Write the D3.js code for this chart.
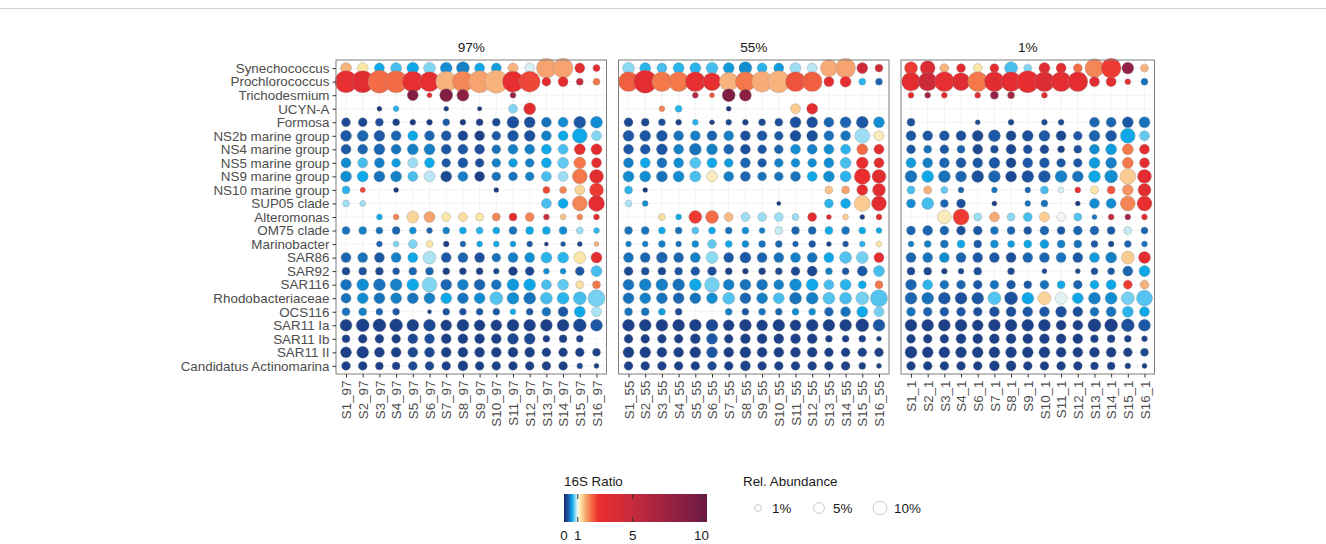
<!DOCTYPE html>
<html>
<head>
<meta charset="utf-8">
<script src="https://cdn.jsdelivr.net/npm/d3@7"></script>
<style>
  body { margin: 0; background: #fff; }
  text { font-family: "Liberation Sans", Arial, sans-serif; }
</style>
</head>
<body>
<script>
// bubble chart: 16S ratio (colour) and relative abundance (size) per taxon and sample
var n = null;

var taxa = ["Synechococcus", "Prochlorococcus", "Trichodesmium", "UCYN-A", "Formosa",
  "NS2b marine group", "NS4 marine group", "NS5 marine group", "NS9 marine group",
  "NS10 marine group", "SUP05 clade", "Alteromonas", "OM75 clade", "Marinobacter",
  "SAR86", "SAR92", "SAR116", "Rhodobacteriaceae", "OCS116", "SAR11 Ia", "SAR11 Ib",
  "SAR11 II", "Candidatus Actinomarina"];

var samples97 = ["S1_97","S2_97","S3_97","S4_97","S5_97","S6_97","S7_97","S8_97","S9_97","S10_97","S11_97","S12_97","S13_97","S14_97","S15_97","S16_97"];
var samples55 = ["S1_55","S2_55","S3_55","S4_55","S5_55","S6_55","S7_55","S8_55","S9_55","S10_55","S11_55","S12_55","S13_55","S14_55","S15_55","S16_55"];
var samples1 = ["S1_1","S2_1","S3_1","S4_1","S6_1","S7_1","S8_1","S9_1","S10_1","S11_1","S12_1","S13_1","S14_1","S15_1","S16_1"];

// 16S ratio, rows follow taxa
var ratio97 = [
  [1.5,1.2,0.6,0.7,0.6,0.8,0.5,0.45,0.6,0.55,1.5,0.95,1.6,1.6,3,3],
  [2.8,3.2,2.0,2.0,2.8,2.8,1.5,1.8,1.6,1.5,2.8,2.3,3,3,5,1.9],
  [n,n,n,n,9,3,9,8.5,n,n,8,n,n,n,n,n],
  [n,n,0.1,0.65,n,n,0.15,n,0.1,n,0.8,3,n,n,n,n],
  [0.2,0.2,0.25,0.15,0.1,0.12,0.3,0.1,0.15,0.2,0.25,0.25,0.4,0.5,0.3,0.5],
  [0.3,0.35,0.3,0.35,0.6,0.35,0.3,0.2,0.15,0.3,0.3,0.25,0.45,0.6,0.6,0.8],
  [0.3,0.35,0.35,0.4,0.45,0.45,0.3,0.3,0.25,0.4,0.45,0.45,0.6,0.7,2.8,3.2],
  [0.5,0.7,0.45,0.55,0.85,0.6,0.3,0.3,0.25,0.45,0.55,0.45,0.6,0.75,1.9,3],
  [0.5,0.6,0.4,0.45,0.7,0.9,0.2,0.45,0.15,0.4,0.4,0.45,0.7,0.85,1.9,3],
  [0.65,2.3,n,0.1,n,n,n,n,n,0.1,n,n,2.3,1.8,1.3,2.4],
  [0.85,0.85,n,n,n,n,n,n,n,n,n,n,0.7,0.6,1.8,3],
  [n,n,0.6,1.8,1.3,1.6,1.2,1.25,1.2,1.8,3,1.8,5,1.4,1.8,3],
  [0.4,0.45,0.4,0.35,0.5,0.35,0.45,0.6,0.65,0.6,0.4,0.6,0.6,0.5,0.85,0.65],
  [n,n,0.35,0.8,0.8,1.2,0.15,0.35,0.6,0.6,0.55,0.3,0.1,0.3,0.15,1.5],
  [0.35,0.4,0.3,0.45,0.6,0.88,0.3,0.35,0.25,0.4,0.45,0.5,0.65,0.65,1.2,3],
  [0.2,0.25,0.2,0.3,0.35,0.35,0.15,0.15,0.15,0.2,0.15,0.2,0.5,0.5,0.3,0.7],
  [0.4,0.5,0.4,0.45,0.6,0.8,0.35,0.45,0.35,0.4,0.55,0.6,0.7,0.75,1.25,1.9],
  [0.4,0.5,0.4,0.45,0.4,0.45,0.6,0.4,0.5,0.72,0.5,0.4,0.7,0.65,0.7,0.78],
  [0.4,0.45,0.35,0.3,n,0.15,0.25,0.25,0.3,0.3,0.6,0.3,0.4,0.3,0.6,0.88],
  [0.15,0.15,0.15,0.15,0.15,0.2,0.15,0.15,0.15,0.15,0.15,0.15,0.15,0.15,0.2,0.3],
  [0.15,0.15,0.15,0.15,0.2,0.25,0.15,0.15,0.15,0.15,0.2,0.2,0.15,0.15,0.15,n],
  [0.15,0.15,0.15,0.15,0.2,0.2,0.15,0.15,0.15,0.15,0.15,0.15,0.15,0.15,0.15,0.15],
  [0.15,0.15,0.15,0.15,0.2,0.2,0.15,0.15,0.15,0.15,0.15,0.15,0.15,0.15,0.2,0.15]
];
// relative abundance (%)
var abund97 = [
  [5.2,5.2,3.9,5.2,6.6,6.6,6.6,8.3,3.9,3.9,3.9,3.9,25,25,3.9,1.1],
  [32,32,35.5,32,28.5,25,28.5,28.5,32,35.5,28.5,28.5,2.7,3.9,1.1,1.1],
  [n,n,n,n,5.2,0.2,8.3,6.6,n,n,0.5,n,n,n,n,n],
  [n,n,0.2,0.5,n,n,0.2,n,0.1,n,2.7,6.6,n,n,n,n],
  [2.7,2.7,1.8,1.1,0.5,0.5,1.1,0.5,1.1,1.8,6.6,5.2,3.9,3.9,6.6,6.6],
  [5.2,5.2,5.2,3.9,3.9,3.9,3.9,3.9,3.9,2.7,5.2,5.2,3.9,3.9,12,3.9],
  [3.9,3.9,5.2,3.9,5.2,5.2,3.9,3.9,3.9,2.7,3.9,3.9,3.9,3.9,5.2,5.2],
  [3.9,3.9,3.9,2.7,3.9,3.9,2.7,3.9,2.7,2.7,2.7,2.7,3.9,5.2,6.6,3.9],
  [5.2,5.2,5.2,5.2,3.9,5.2,5.2,3.9,3.9,2.7,2.7,2.7,3.9,3.9,12,10],
  [1.8,0.3,n,0.2,n,n,n,n,n,0.2,n,n,1.1,1.1,3.9,10],
  [1.1,0.5,n,n,n,n,n,n,n,n,n,n,3.9,3.9,12,14.5],
  [n,n,0.5,0.5,6.6,5.2,2.7,2.7,1.8,1.8,1.8,2.7,0.5,0.5,0.5,0.5],
  [1.8,1.8,1.1,1.8,1.1,0.5,1.1,1.1,1.1,1.1,1.8,1.8,1.8,1.8,1.1,0.5],
  [n,n,0.5,0.5,2.7,1.1,0.5,0.5,0.5,0.5,0.5,0.5,0.05,0.2,0.2,0.2],
  [3.9,3.9,3.9,3.9,3.9,8.3,3.9,3.9,3.9,2.7,3.9,3.9,5.2,5.2,6.6,5.2],
  [1.8,1.8,1.8,1.1,1.8,1.8,1.1,1.1,1.1,0.5,2.7,2.7,0.5,0.5,2.7,5.2],
  [5.2,6.6,6.6,6.6,6.6,12,5.2,5.2,5.2,3.9,6.6,6.6,3.9,5.2,1.8,1.8],
  [3.9,5.2,5.2,5.2,5.2,5.2,5.2,5.2,5.2,8.3,6.6,6.6,6.6,6.6,8.3,17],
  [1.8,1.8,1.1,1.1,n,0.05,1.1,1.1,1.1,1.1,0.5,1.1,2.7,3.9,5.2,3.9],
  [6.6,8.3,8.3,8.3,6.6,6.6,5.2,6.6,5.2,5.2,6.6,6.6,6.6,6.6,8.3,6.6],
  [1.8,2.7,2.7,2.7,3.9,3.9,3.9,3.9,3.9,3.9,5.2,5.2,1.1,1.8,1.1,n],
  [5.2,6.6,3.9,3.9,3.9,3.9,3.9,3.9,3.9,3.9,3.9,3.9,2.7,2.7,2.7,1.8],
  [2.7,2.7,1.8,1.8,2.7,2.7,2.7,3.9,2.7,2.7,2.7,2.7,2.7,2.7,0.5,0.2]
];

var ratio55 = [
  [0.82,0.65,0.7,0.65,0.65,0.7,0.55,0.5,0.65,0.55,0.85,0.9,1.55,1.6,4.5,4.5],
  [2.1,3,1.9,1.9,2.8,2.8,1.5,1.9,1.55,1.5,2.2,2.1,3,2.8,0.65,0.35],
  [n,n,n,n,6,2.2,9,8.5,n,n,n,n,n,n,n,n],
  [n,n,1.8,0.65,n,n,0.1,n,n,n,1.35,3,n,n,n,n],
  [0.2,0.2,0.25,0.15,0.65,0.15,0.2,0.15,0.2,0.25,0.25,0.25,0.35,0.35,0.3,0.5],
  [0.3,0.3,0.3,0.4,0.45,0.35,0.45,0.25,0.3,0.3,0.25,0.25,0.4,0.4,0.85,1.15],
  [0.3,0.3,0.3,0.45,0.4,0.45,0.35,0.25,0.3,0.35,0.5,0.45,0.5,0.65,2,3],
  [0.45,0.6,0.4,0.5,0.72,0.6,0.55,0.35,0.3,0.45,0.5,0.5,0.5,0.7,2.6,3],
  [0.5,0.5,0.4,0.5,0.7,1.15,0.45,0.35,0.4,0.4,0.4,0.6,0.5,0.65,2.6,3],
  [0.65,0.1,n,n,n,n,n,n,n,n,n,n,1.4,1.6,2.9,3],
  [0.88,0.5,n,n,n,n,n,n,n,0.1,n,n,0.65,0.6,1.35,3],
  [n,n,1.25,0.6,2.4,2,1.45,0.85,0.85,0.85,0.85,3,3.5,1.35,0.15,3],
  [0.4,0.4,0.6,0.4,0.72,0.6,0.4,0.5,0.45,0.92,0.35,0.35,0.6,0.4,0.6,0.6],
  [0.45,0.45,0.45,0.4,0.5,0.75,0.6,0.5,0.4,0.35,0.35,0.3,0.15,0.3,0.65,1.2],
  [0.4,0.35,0.35,0.35,0.45,0.82,0.3,0.3,0.35,0.4,0.45,0.4,0.6,0.72,0.78,3],
  [0.2,0.25,0.2,0.3,0.3,0.25,0.15,0.12,0.15,0.2,0.2,0.2,0.45,0.3,0.3,0.7],
  [0.4,0.45,0.45,0.4,0.6,0.78,0.45,0.4,0.4,0.45,0.5,0.6,0.7,0.65,0.6,1.9],
  [0.4,0.45,0.4,0.35,0.4,0.5,0.72,0.35,0.45,0.7,0.4,0.45,0.72,0.7,0.78,0.72],
  [0.4,0.4,0.55,0.2,n,n,0.45,0.3,0.4,0.35,0.5,0.5,0.35,0.4,0.6,0.78],
  [0.15,0.15,0.15,0.15,0.15,0.2,0.15,0.15,0.15,0.15,0.15,0.15,0.15,0.15,0.15,0.3],
  [0.15,0.15,0.15,0.15,0.15,0.3,0.15,0.15,0.15,0.15,0.15,0.15,0.15,0.15,0.15,0.15],
  [0.15,0.15,0.15,0.15,0.15,0.3,0.15,0.15,0.15,0.15,0.15,0.15,0.15,0.15,0.15,0.15],
  [0.15,0.15,0.15,0.15,0.15,0.2,0.15,0.15,0.15,0.15,0.15,0.15,0.15,0.15,0.15,0.15]
];
var abund55 = [
  [6.6,5.2,3.9,5.2,5.2,6.6,5.2,8.3,3.9,3.9,5.2,3.9,17,25,5.2,1.8],
  [25,35.5,25,25,25,19.5,22,25,28.5,32,25,25,3.9,5.2,1.1,1.1],
  [n,n,n,n,0.5,0.2,8.3,6.6,n,n,n,n,n,n,n,n],
  [n,n,0.5,1.1,n,n,0.2,n,n,n,3.9,5.2,n,n,n,n],
  [2.7,1.8,1.1,0.5,0.5,0.2,0.5,0.5,1.1,1.8,5.2,5.2,3.9,5.2,6.6,5.2],
  [5.2,5.2,5.2,3.9,3.9,3.9,3.9,3.9,3.9,2.7,5.2,5.2,3.9,3.9,12,3.9],
  [3.9,3.9,5.2,3.9,6.6,5.2,3.9,3.9,2.7,2.7,3.9,3.9,3.9,3.9,5.2,3.9],
  [3.9,3.9,3.9,3.9,5.2,3.9,2.7,3.9,2.7,2.7,2.7,2.7,3.9,5.2,6.6,3.9],
  [5.2,5.2,5.2,5.2,5.2,5.2,3.9,3.9,2.7,2.7,3.9,3.9,5.2,5.2,14.5,10],
  [1.8,0.2,n,n,n,n,n,n,n,n,n,n,1.8,1.8,5.2,8.3],
  [1.1,0.5,n,n,n,n,n,n,n,0.05,n,n,2.7,3.9,14.5,12],
  [n,n,1.1,0.5,8.3,8.3,2.7,2.7,2.7,2.7,1.1,2.7,0.2,0.5,0.2,0.5],
  [1.8,1.8,1.1,1.1,1.1,1.1,1.1,1.1,0.5,1.8,1.8,1.8,1.8,1.8,1.1,0.5],
  [0.5,0.5,1.1,0.5,1.1,2.7,1.1,1.1,1.1,1.1,0.5,1.1,0.2,0.5,0.5,0.5],
  [3.9,3.9,5.2,3.9,3.9,6.6,3.9,5.2,3.9,3.9,3.9,3.9,3.9,6.6,6.6,3.9],
  [2.7,1.8,1.8,1.8,2.7,2.7,1.1,0.5,1.1,1.1,2.7,3.9,1.1,1.1,3.9,5.2],
  [5.2,6.6,6.6,6.6,6.6,12,5.2,5.2,5.2,3.9,6.6,6.6,3.9,5.2,1.8,1.8],
  [5.2,5.2,5.2,5.2,5.2,5.2,6.6,5.2,5.2,5.2,6.6,6.6,6.6,6.6,8.3,17],
  [1.8,1.8,1.1,1.1,n,n,1.1,1.1,1.1,1.1,1.1,1.1,2.7,3.9,5.2,3.9],
  [6.6,6.6,6.6,6.6,6.6,6.6,5.2,6.6,5.2,6.6,5.2,6.6,6.6,6.6,8.3,6.6],
  [2.7,2.7,2.7,2.7,3.9,5.2,2.7,3.9,3.9,3.9,3.9,3.9,1.1,1.1,1.1,0.2],
  [5.2,5.2,3.9,3.9,5.2,5.2,3.9,5.2,3.9,3.9,3.9,3.9,2.7,2.7,2.7,2.7],
  [2.7,2.7,2.7,2.7,2.7,2.7,2.7,3.9,2.7,2.7,2.7,2.7,2.7,2.7,1.1,0.2]
];

var ratio1 = [
  [2.4,3.5,1.5,3,1.2,3,0.7,0.8,3.2,3,2,1.8,2.4,8,1.5],
  [3,4.5,2.8,3.3,1.9,3.2,3,2.9,3.5,3,3,3.2,3,3,0.4],
  [3,7,3,n,3.3,8,7,n,3.3,n,n,n,n,n,n],
  [n,n,n,n,n,n,n,n,n,n,n,n,n,n,n],
  [0.25,n,n,n,0.2,n,0.2,n,0.2,0.2,n,0.35,0.35,0.3,0.4],
  [0.3,0.3,0.3,0.25,0.2,0.3,0.2,0.25,0.3,0.2,0.3,0.35,0.3,0.6,0.75],
  [0.3,0.4,0.3,0.35,0.2,0.25,0.2,0.25,0.2,0.15,0.25,0.5,0.55,1.9,3],
  [0.55,0.45,0.35,0.3,0.3,0.3,0.2,0.3,0.3,0.3,0.3,0.55,0.45,1.9,3],
  [0.4,0.6,0.4,0.35,0.25,0.35,0.2,0.25,0.3,0.45,0.4,0.6,0.5,1.35,3],
  [0.7,1.5,0.75,0.35,n,0.4,n,0.35,0.7,0.95,3,1.2,2.2,1.7,3],
  [0.5,0.7,0.35,0.25,n,0.12,n,0.4,0.4,n,0.12,0.5,0.5,1.8,2.7],
  [n,n,1.15,2.4,0.85,1.55,0.82,0.7,1.35,1.0,0.72,0.4,5,7,3],
  [0.35,0.35,0.35,0.25,0.3,0.4,0.35,0.3,0.35,0.3,0.35,0.35,0.3,0.92,0.35],
  [0.45,0.45,0.4,0.6,0.3,0.5,0.55,0.6,0.55,0.45,0.4,0.3,0.2,0.35,0.4],
  [0.35,0.4,0.5,0.35,0.3,0.3,0.25,0.35,0.35,0.4,0.3,0.55,0.45,1.35,3],
  [0.2,0.2,0.15,0.2,0.25,n,0.2,n,0.2,n,0.2,0.25,0.3,0.35,0.6],
  [0.35,0.65,0.4,0.35,0.3,0.4,0.3,0.3,0.4,0.6,0.35,0.6,0.6,2.4,1.5],
  [0.35,0.4,0.3,0.25,0.3,0.72,0.25,0.6,1.3,0.97,0.6,0.45,0.5,0.78,0.72],
  [0.4,0.35,0.3,0.3,0.25,0.25,0.25,0.3,0.3,0.25,0.25,0.4,0.4,0.65,0.6],
  [0.15,0.15,0.15,0.15,0.15,0.15,0.15,0.15,0.15,0.15,0.15,0.15,0.15,0.25,0.3],
  [0.15,0.15,0.15,0.15,0.15,0.15,0.15,0.15,0.15,0.15,0.15,0.15,0.15,0.15,0.15],
  [0.15,0.15,0.15,0.15,0.15,0.15,0.15,0.15,0.15,0.15,0.15,0.15,0.15,0.15,0.2],
  [0.15,0.15,0.15,0.15,0.15,0.15,0.15,0.15,0.15,0.15,0.15,0.15,0.15,0.15,0.15]
];
var abund1 = [
  [8.3,12,2.7,2.7,2.7,2.7,8.3,1.8,5.2,3.9,2.7,22,25,6.6,1.8],
  [22,22,25,19.5,25,25,25,32,25,25,25,3.9,3.9,0.5,1.1],
  [0.5,0.5,0.5,n,0.5,1.8,1.1,n,0.5,n,n,n,n,n,n],
  [n,n,n,n,n,n,n,n,n,n,n,n,n,n,n],
  [1.8,n,n,n,0.2,n,0.5,n,0.5,0.5,n,3.9,3.9,5.2,5.2],
  [3.9,3.9,3.9,3.9,5.2,6.6,3.9,5.2,5.2,3.9,2.7,5.2,5.2,12,3.9],
  [2.7,1.8,2.7,1.8,3.9,1.8,3.9,2.7,2.7,1.1,1.8,3.9,5.2,5.2,3.9],
  [3.9,3.9,3.9,3.9,3.9,5.2,3.9,3.9,3.9,2.7,2.7,5.2,5.2,5.2,3.9],
  [6.6,6.6,6.6,5.2,6.6,6.6,5.2,6.6,6.6,6.6,5.2,6.6,8.3,14.5,10],
  [1.8,1.8,1.1,0.5,n,0.5,n,0.5,1.8,0.5,0.5,1.8,1.8,5.2,8.3],
  [2.7,6.6,1.8,2.7,n,0.2,n,0.5,1.1,n,0.2,3.9,3.9,12,12],
  [n,n,10,14.5,1.8,3.9,1.8,2.7,3.9,2.7,1.8,0.2,0.5,0.5,0.5],
  [2.7,3.9,2.7,2.7,2.7,1.8,1.8,1.8,2.7,1.8,2.7,2.7,1.8,1.8,1.1],
  [0.5,1.1,1.8,1.8,1.8,1.8,1.1,1.8,2.7,1.8,1.8,1.1,0.5,1.1,0.5],
  [3.9,3.9,3.9,3.9,3.9,3.9,3.9,3.9,3.9,3.9,3.9,3.9,5.2,8.3,6.6],
  [1.8,1.8,0.5,0.5,1.8,n,1.1,n,0.2,n,0.2,1.1,1.1,3.9,5.2],
  [5.2,3.9,2.7,2.7,2.7,2.7,2.7,1.8,2.7,1.8,2.7,2.7,3.9,2.7,2.7],
  [6.6,6.6,6.6,6.6,6.6,8.3,8.3,6.6,8.3,6.6,5.2,6.6,6.6,8.3,14.5],
  [2.7,2.7,2.7,2.7,2.7,3.9,3.9,3.9,3.9,5.2,3.9,2.7,3.9,5.2,3.9],
  [6.6,6.6,6.6,6.6,5.2,6.6,6.6,6.6,6.6,3.9,3.9,8.3,8.3,8.3,6.6],
  [2.7,2.7,2.7,3.9,3.9,3.9,3.9,3.9,3.9,3.9,3.9,1.8,1.8,1.1,0.5],
  [6.6,5.2,5.2,5.2,5.2,5.2,5.2,5.2,5.2,3.9,3.9,3.9,3.9,2.7,1.8],
  [2.7,2.7,2.7,2.7,2.7,3.9,3.9,2.7,2.7,2.7,2.7,1.8,1.8,0.5,0.2]
];

var panelTitles = ["97%", "55%", "1%"];
var ratioTicks = [0, 1, 5, 10];
var sizeBreaks = [1, 5, 10];

var W = 1326, H = 544;
var fs = "13.4px";
var svg = d3.select("body").append("svg")
    .attr("width", W)
    .attr("height", H);

// thin rule along the top of the figure
svg.append("line")
    .attr("x1", 0).attr("x2", W)
    .attr("y1", 8.5).attr("y2", 8.5)
    .attr("stroke", "#d0d0d0");

//scales
var color = d3.scaleLinear()
    .domain([0, 0.3, 0.6, 0.82, 1, 1.2, 1.5, 1.9, 2.5, 5, 10.4])
    .range(["#1b2a6b", "#1d58a6", "#0ea8e8", "#8cd9f4", "#f3f8f4", "#fbe7a8",
            "#f8b27c", "#f4784a", "#ec2e2e", "#c52a3d", "#6b1a47"])
    .clamp(true);

var size = d3.scaleSqrt()
    .domain([0, 40])
    .range([1.8, 12.1]);

var plotTop = 60, plotBottom = 374;
var y = d3.scalePoint()
    .domain(taxa)
    .range([plotTop, plotBottom])
    .padding(0.6);

var panels = [
  {title: panelTitles[0], cols: samples97, ratio: ratio97, abund: abund97, x0: 336, x1: 606.5},
  {title: panelTitles[1], cols: samples55, ratio: ratio55, abund: abund55, x0: 618.5, x1: 889},
  {title: panelTitles[2], cols: samples1, ratio: ratio1, abund: abund1, x0: 901, x1: 1154.5}
];

panels.forEach(function(p, pi) {
    var x = d3.scalePoint()
        .domain(p.cols)
        .range([p.x0, p.x1])
        .padding(0.6);

    var g = svg.append("g");

    // grid
    g.selectAll(".gx").data(p.cols).enter().append("line")
        .attr("x1", function(d) { return x(d); })
        .attr("x2", function(d) { return x(d); })
        .attr("y1", plotTop).attr("y2", plotBottom)
        .attr("stroke", "#ebebeb").attr("stroke-width", 0.6);
    g.selectAll(".gy").data(taxa).enter().append("line")
        .attr("x1", p.x0).attr("x2", p.x1)
        .attr("y1", function(d) { return y(d); })
        .attr("y2", function(d) { return y(d); })
        .attr("stroke", "#ebebeb").attr("stroke-width", 0.6);

    var pts = [];
    taxa.forEach(function(t, i) {
        p.cols.forEach(function(c, j) {
            var r = p.ratio[i][j], a = p.abund[i][j];
            if (r !== null && a !== null) pts.push({taxon: t, sample: c, ratio: r, abund: a});
        });
    });

    g.selectAll(".dot").data(pts).enter().append("circle")
        .attr("class", "dot")
        .attr("cx", function(d) { return x(d.sample); })
        .attr("cy", function(d) { return y(d.taxon); })
        .attr("r", function(d) { return size(d.abund); })
        .attr("fill", function(d) { return color(d.ratio); })
        .attr("stroke", "rgba(140,140,140,0.55)")
        .attr("stroke-width", 0.6);

    // panel border
    g.append("rect")
        .attr("x", p.x0).attr("y", plotTop)
        .attr("width", p.x1 - p.x0).attr("height", plotBottom - plotTop)
        .attr("fill", "none")
        .attr("stroke", "#7f7f7f").attr("stroke-width", 1);

    // strip title
    g.append("text")
        .attr("x", (p.x0 + p.x1) / 2)
        .attr("y", 52)
        .attr("text-anchor", "middle")
        .style("font-size", "13.6px")
        .attr("fill", "#1a1a1a")
        .text(p.title);

    // x axis
    var xa = g.append("g")
        .attr("transform", "translate(0," + plotBottom + ")")
        .call(d3.axisBottom(x).tickSize(3.5).tickSizeOuter(0));
    xa.select(".domain").remove();
    xa.selectAll("line").attr("stroke", "#333");
    xa.selectAll("text")
        .style("font-size", fs)
        .style("font-family", "'Liberation Sans', Arial, sans-serif")
        .attr("fill", "#4d4d4d")
        .attr("text-anchor", "end")
        .attr("transform", "rotate(-90)")
        .attr("x", -6.5)
        .attr("y", 0)
        .attr("dy", "0.35em");

    if (pi === 0) {
        var ya = g.append("g")
            .attr("transform", "translate(" + p.x0 + ",0)")
            .call(d3.axisLeft(y).tickSize(3.5).tickSizeOuter(0));
        ya.select(".domain").remove();
        ya.selectAll("line").attr("stroke", "#333");
        ya.selectAll("text")
            .style("font-size", fs)
            .style("font-family", "'Liberation Sans', Arial, sans-serif")
            .attr("fill", "#4d4d4d")
            .attr("x", -6.5);
    }
});

// colour legend
var lx = d3.scaleLinear().domain([0, 10.4]).range([564, 707]);
var defs = svg.append("defs");
var grad = defs.append("linearGradient").attr("id", "ratioGrad");
d3.range(0, 10.41, 0.1).forEach(function(v) {
    grad.append("stop")
        .attr("offset", (v / 10.4 * 100) + "%")
        .attr("stop-color", color(v));
});

svg.append("text")
    .attr("x", 564).attr("y", 486)
    .style("font-size", fs).attr("fill", "#1a1a1a")
    .text("16S Ratio");

svg.append("rect")
    .attr("x", lx(0)).attr("y", 494)
    .attr("width", lx(10.4) - lx(0)).attr("height", 28)
    .attr("fill", "url(#ratioGrad)");

svg.selectAll(".ctick").data(ratioTicks.slice(1)).enter().append("g")
    .each(function(d) {
        var s = d3.select(this);
        s.append("line").attr("x1", lx(d)).attr("x2", lx(d)).attr("y1", 494).attr("y2", 499)
            .attr("stroke", "#333").attr("stroke-width", 1);
        s.append("line").attr("x1", lx(d)).attr("x2", lx(d)).attr("y1", 517).attr("y2", 522)
            .attr("stroke", "#333").attr("stroke-width", 1);
    });

svg.selectAll(".clab").data(ratioTicks).enter().append("text")
    .attr("x", function(d) { return lx(d); })
    .attr("y", 539.5)
    .attr("text-anchor", "middle")
    .style("font-size", fs).attr("fill", "#1a1a1a")
    .text(function(d) { return d; });

// size legend
svg.append("text")
    .attr("x", 743).attr("y", 486)
    .style("font-size", fs).attr("fill", "#1a1a1a")
    .text("Rel. Abundance");

var sl = svg.selectAll(".skey").data(sizeBreaks).enter().append("g")
    .attr("transform", function(d, i) { return "translate(" + (758 + i * 61) + ",508)"; });
sl.append("circle")
    .attr("r", function(d) { return size(d); })
    .attr("fill", "#fff")
    .attr("stroke", "#c8c8c8").attr("stroke-width", 1);
sl.append("text")
    .attr("x", 14).attr("y", 5)
    .style("font-size", fs).attr("fill", "#1a1a1a")
    .text(function(d) { return d + "%"; });
</script>
</body>
</html>
